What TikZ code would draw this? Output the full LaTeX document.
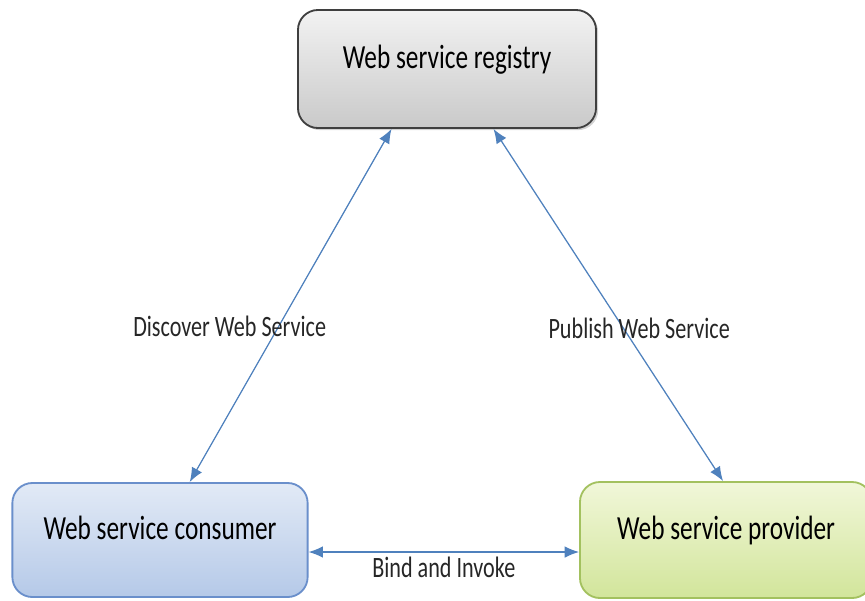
\documentclass[tikz,border=0pt]{standalone}
\usepackage{fontspec}
\setmainfont[FakeStretch=0.75]{Carlito}
\usetikzlibrary{arrows.meta, calc, shadows}

\definecolor{arrowblue}{HTML}{4F81BD}
\definecolor{regline}{HTML}{3F3F3F}
\definecolor{conline}{HTML}{6A8FCB}
\definecolor{contop}{HTML}{E2EAF6}
\definecolor{conbot}{HTML}{B5C9E8}
\definecolor{proline}{HTML}{A3C15F}
\definecolor{protop}{HTML}{F1F7D9}
\definecolor{probot}{HTML}{D2E59B}

\begin{document}
\begin{tikzpicture}[
    x=0.025cm, y=-0.025cm,
    boxstyle/.style={rectangle, rounded corners=5mm, line width=1.3pt,
        font=\fontsize{24}{28}\selectfont, text depth=6mm},
    link/.style={{Latex[length=3.6mm,width=2.9mm]}-{Latex[length=3.6mm,width=2.9mm]},
        arrowblue, line width=0.9pt},
    lbl/.style={font=\fontsize{21}{25}\selectfont, text=black!85}
]
    \useasboundingbox (0,0) rectangle (865,600);

    \node[boxstyle, draw=regline, top color=gray!10, bottom color=gray!42,
        drop shadow={opacity=0.35, shadow xshift=1.5pt, shadow yshift=-1.5pt},
        minimum width=7.45cm, minimum height=2.95cm] at (447,69) (registry) {Web service registry};
    \node[boxstyle, draw=conline, top color=contop, bottom color=conbot,
        minimum width=7.38cm, minimum height=2.85cm] at (160,540) (consumer) {Web service consumer};
    \node[boxstyle, draw=proline, top color=protop, bottom color=probot,
        minimum width=7.3cm, minimum height=2.9cm] at (726,540) (provider) {Web service provider};

    \draw[link] ($(registry.south west)!0.315!(registry.south east)$)
        -- node[lbl, pos=0.56, xshift=-1.22cm] (discover) {Discover Web Service}
        ($(consumer.north west)!0.6!(consumer.north east)$);
    \draw[link] ($(registry.south west)!0.655!(registry.south east)$)
        -- node[lbl, pos=0.565, xshift=0.4cm] (publish) {Publish Web Service}
        ($(provider.north west)!0.49!(provider.north east)$);
    \draw[link] ([yshift=-0.3cm]consumer.east)
        -- node[lbl, below=0pt] (bind) {Bind and Invoke}
        ([yshift=-0.3cm]provider.west);
\end{tikzpicture}
\end{document}
